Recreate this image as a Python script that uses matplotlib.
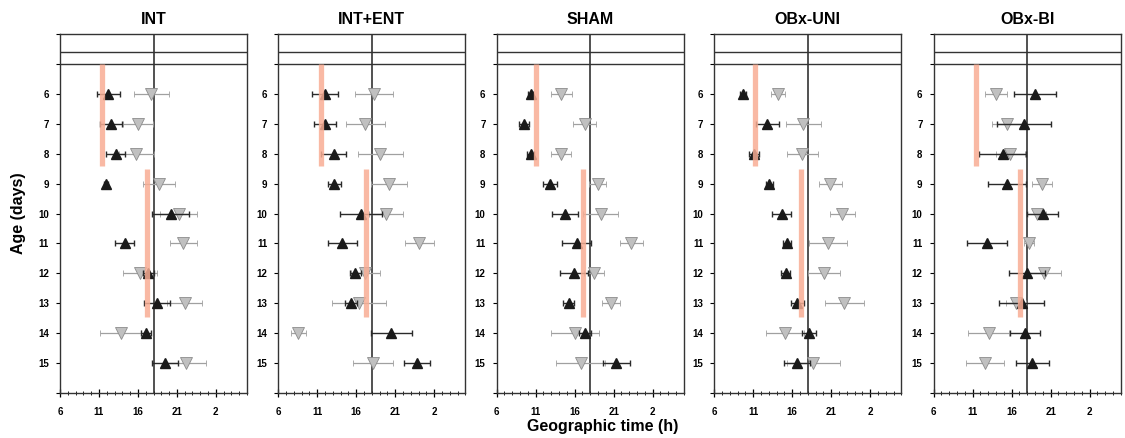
import matplotlib
matplotlib.use("Agg")
import matplotlib.pyplot as plt
import numpy as np

plt.rcParams['font.family'] = ['Liberation Sans Narrow', 'Liberation Sans', 'DejaVu Sans']
plt.rcParams['font.weight'] = 'bold'

groups = ["INT", "INT+ENT", "SHAM", "OBx-UNI", "OBx-BI"]
ages = [6, 7, 8, 9, 10, 11, 12, 13, 14, 15]

# black (up triangles): mean acrophase and error, per group
int_black = [12.2, 12.54, 13.13, 11.9, 20.2, 14.28, 17.3, 18.48, 17.04, 19.46]
int_black_err = [1.5, 1.4, 1.25, 0.3, 2.4, 1.2, 0.7, 1.65, 0.6, 1.7]
int_gray = [17.72, 16.0, 15.8, 18.74, 21.24, 21.84, 16.23, 22.0, 13.77, 22.2]
int_gray_err = [2.25, 1.97, 2.2, 2.05, 2.35, 1.75, 2.2, 2.25, 2.6, 2.55]

ent_black = [12.0, 11.95, 13.1, 13.2, 16.62, 14.22, 15.9, 15.38, 20.5, 23.8]
ent_black_err = [1.67, 1.43, 1.65, 0.8, 2.74, 1.86, 0.73, 0.78, 2.6, 1.65]
ent_gray = [18.29, 17.18, 19.1, 20.2, 19.83, 24.07, 17.18, 16.36, 8.57, 18.16]
ent_gray_err = [2.45, 2.55, 2.9, 2.35, 2.2, 1.85, 1.85, 3.5, 0.98, 2.6]

sham_black = [10.38, 9.45, 10.38, 12.85, 14.77, 16.26, 15.87, 15.23, 17.3, 21.36]
sham_black_err = [0.3, 0.65, 0.45, 0.93, 1.7, 1.9, 1.8, 0.73, 0.75, 1.77]
sham_gray = [14.3, 17.3, 14.26, 18.98, 19.36, 23.3, 18.5, 20.68, 16.04, 16.8]
sham_gray_err = [1.36, 1.45, 1.25, 1.1, 2.25, 1.5, 1.3, 1.2, 3.06, 3.15]

uni_black = [9.71, 12.82, 11.07, 13.08, 14.66, 15.34, 15.17, 16.66, 18.15, 16.62]
uni_black_err = [0.35, 1.47, 0.67, 0.5, 1.22, 0.5, 0.55, 0.88, 0.95, 1.7]
uni_gray = [14.14, 17.43, 17.3, 20.88, 22.42, 20.58, 20.03, 22.67, 15.08, 18.71]
uni_gray_err = [0.92, 2.2, 2.02, 1.45, 1.62, 2.42, 2.05, 2.5, 2.4, 3.4]

bi_black = [19.0, 17.6, 14.83, 15.38, 19.99, 12.87, 17.98, 17.3, 17.73, 18.67]
bi_black_err = [2.65, 3.5, 3.0, 2.43, 2.0, 2.55, 2.3, 2.86, 1.92, 2.15]
bi_gray = [14.02, 15.47, 15.85, 19.94, 19.22, 18.28, 20.2, 16.58, 13.04, 12.6]
bi_gray_err = [1.45, 2.05, 1.85, 1.3, 1.2, 0.65, 2.2, 1.3, 2.65, 2.47]

black_means = [int_black, ent_black, sham_black, uni_black, bi_black]
black_errs = [int_black_err, ent_black_err, sham_black_err, uni_black_err, bi_black_err]
gray_means = [int_gray, ent_gray, sham_gray, uni_gray, bi_gray]
gray_errs = [int_gray_err, ent_gray_err, sham_gray_err, uni_gray_err, bi_gray_err]

# salmon phase bars: time and age span
early_bar = [11.35, 11.44, 11.1, 11.27, 11.48]
late_bar = [17.15, 17.24, 17.1, 17.13, 17.04]
early_span = (5.0, 8.4)
late_span = (8.5, 13.45)
lights_off = 18

xticks = [6, 11, 16, 21, 26]
xticklabels = ["6", "11", "16", "21", "2"]

W, H = 1125, 438
fig = plt.figure(figsize=(W / 100, H / 100), dpi=100)
lefts = [60, 278.3, 496.7, 714.3, 933.7]
ax_w = 187
ax_top, ax_bot = 34, 393

salmon = "#f8ad94"
gray_face = "#c0c0c0"
gray_edge = "#8c8c8c"
gray_bar = "#a0a0a0"

for i, name in enumerate(groups):
    ax = fig.add_axes([lefts[i] / W, (H - ax_bot) / H, ax_w / W, (ax_bot - ax_top) / H])

    ax.errorbar(gray_means[i], ages, xerr=gray_errs[i], fmt="v", ms=8.5,
                mfc=gray_face, mec=gray_edge, mew=0.6, ecolor=gray_bar,
                elinewidth=0.9, capsize=2.5, capthick=0.9, zorder=3)
    ax.errorbar(black_means[i], ages, xerr=black_errs[i], fmt="^", ms=7.5,
                mfc="#1a1a1a", mec="#1a1a1a", ecolor="#2a2a2a",
                elinewidth=1.0, capsize=2.5, capthick=1.0, zorder=4)

    ax.vlines(early_bar[i], *early_span, colors=salmon, linewidth=3.8, alpha=0.85, zorder=5)
    ax.vlines(late_bar[i], *late_span, colors=salmon, linewidth=3.8, alpha=0.85, zorder=5)

    ax.axvline(lights_off, color="#222222", lw=1.1, zorder=2)
    ax.axhline(4.6, color="#333333", lw=1.0, zorder=2)
    ax.axhline(5.0, color="#333333", lw=1.0, zorder=2)

    ax.set_xlim(6, 30)
    ax.set_ylim(16, 4)
    ax.set_xticks(xticks)
    ax.set_xticklabels(xticklabels, fontsize=7)
    ax.set_xticks(np.arange(6, 31, 1), minor=True)
    ax.tick_params(axis="x", which="major", direction="inout", length=6, width=0.9, pad=7)
    ax.tick_params(axis="x", which="minor", direction="inout", length=3, width=0.6)

    ax.set_yticks(range(4, 17))
    ax.set_yticklabels(["", ""] + [str(a) for a in ages] + [""], fontsize=7)
    ax.tick_params(axis="y", direction="out", length=3, width=0.8, pad=5)

    for s in ax.spines.values():
        s.set_color("#333333")
        s.set_linewidth(1.0)

    ax.set_title(name, fontsize=11.5, fontweight="bold", pad=7)

    if i == 0:
        ax.set_ylabel("Age (days)", fontsize=11.5, fontweight="bold", labelpad=9)

fig.text(603 / W, 1 - 427 / H, "Geographic time (h)", ha="center", va="center",
         fontsize=11.5, fontweight="bold")

fig.savefig("out.png", dpi=100)
